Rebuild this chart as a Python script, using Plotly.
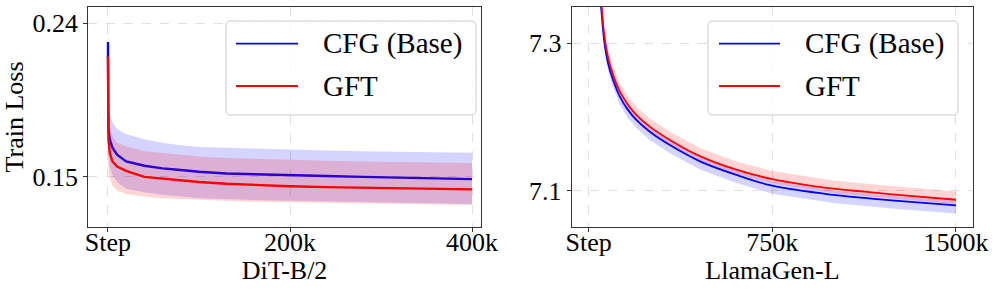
import plotly.graph_objects as go

# ---------------- data ----------------
# Left panel: DiT-B/2 (steps)
dit_steps = [0, 500, 2000, 5000, 10000, 20000, 40000, 60000, 80000, 100000,
             130000, 160000, 200000, 240000, 280000, 320000, 360000, 400000]
dit_cfg = [0.229, 0.178, 0.172, 0.167, 0.163, 0.159, 0.1565, 0.155, 0.154, 0.153,
           0.152, 0.1515, 0.151, 0.1505, 0.150, 0.1495, 0.149, 0.1487]
dit_gft = [0.2204, 0.172, 0.164, 0.159, 0.156, 0.1535, 0.150, 0.149, 0.1478, 0.147,
           0.146, 0.1452, 0.1445, 0.144, 0.1436, 0.1432, 0.143, 0.1427]
# raw-loss envelopes (light bands)
dit_cfg_hi = [0.262, 0.190, 0.186, 0.182, 0.178, 0.175, 0.172, 0.170, 0.1685, 0.1675,
              0.167, 0.1665, 0.166, 0.1655, 0.165, 0.1648, 0.1645, 0.1642]
dit_cfg_lo = [0.175, 0.162, 0.156, 0.151, 0.147, 0.143, 0.141, 0.1395, 0.1385, 0.1375,
              0.137, 0.1365, 0.136, 0.1355, 0.135, 0.1348, 0.1345, 0.1342]
dit_gft_hi = [0.262, 0.185, 0.179, 0.174, 0.170, 0.168, 0.165, 0.164, 0.163, 0.162,
              0.161, 0.1605, 0.160, 0.1595, 0.159, 0.1587, 0.1585, 0.1582]
dit_gft_lo = [0.172, 0.153, 0.149, 0.145, 0.142, 0.140, 0.1385, 0.1375, 0.137, 0.1365,
              0.136, 0.1355, 0.1352, 0.135, 0.1345, 0.134, 0.1338, 0.1335]

# Right panel: LlamaGen-L (steps)
llama_steps = [30000, 40000, 52000, 64000, 80000, 100000, 127000, 160000, 195000, 250000,
               332000, 455000, 600000, 750000, 1000000, 1125000, 1250000, 1500000]
llama_cfg = [7.44, 7.395, 7.345, 7.302, 7.272, 7.250, 7.228, 7.210, 7.196, 7.180,
             7.162, 7.140, 7.122, 7.107, 7.0945, 7.0905, 7.0868, 7.0805]
llama_gft = [7.45, 7.405, 7.355, 7.311, 7.280, 7.257, 7.235, 7.217, 7.203, 7.187,
             7.169, 7.147, 7.129, 7.116, 7.103, 7.099, 7.095, 7.088]
llama_cfg_hi = [7.446, 7.401, 7.351, 7.308, 7.278, 7.256, 7.234, 7.216, 7.202, 7.186,
                7.168, 7.146, 7.128, 7.113, 7.1005, 7.0965, 7.0928, 7.0865]
llama_cfg_lo = [7.432, 7.387, 7.337, 7.293, 7.262, 7.240, 7.217, 7.199, 7.185, 7.169,
                7.151, 7.129, 7.111, 7.096, 7.0835, 7.0795, 7.0758, 7.0695]
llama_gft_hi = [7.458, 7.413, 7.363, 7.320, 7.290, 7.268, 7.246, 7.228, 7.214, 7.198,
                7.180, 7.158, 7.140, 7.127, 7.114, 7.110, 7.106, 7.099]
llama_gft_lo = [7.444, 7.399, 7.349, 7.305, 7.274, 7.251, 7.229, 7.211, 7.197, 7.181,
                7.163, 7.141, 7.123, 7.110, 7.097, 7.093, 7.089, 7.082]

dit_xticks = [0, 200000, 400000]
dit_xtext = ["Step", "200k", "400k"]
dit_yticks = [0.15, 0.24]
dit_ytext = ["0.15", "0.24"]
llama_xticks = [0, 750000, 1500000]
llama_xtext = ["Step", "750k", "1500k"]
llama_yticks = [7.1, 7.3]
llama_ytext = ["7.1", "7.3"]

series_names = ["CFG (Base)", "GFT"]
BLUE = "rgb(0,0,255)"
RED = "rgb(255,0,0)"
BLUE_BAND = "rgba(0,0,255,0.17)"
RED_BAND = "rgba(255,0,0,0.17)"

FONT = "Liberation Serif, Times New Roman, serif"
W, H = 996, 291

fig = go.Figure()


def band(x, lo, hi, color, xa, ya):
    return go.Scatter(x=list(x) + list(x)[::-1], y=list(hi) + list(lo)[::-1],
                      fill="toself", fillcolor=color, mode="lines",
                      line=dict(width=0, color=color), hoverinfo="skip",
                      showlegend=False, xaxis=xa, yaxis=ya)


def mean(x, y, color, name, xa, ya, width, shape):
    return go.Scatter(x=x, y=y, mode="lines",
                      line=dict(color=color, width=width, shape=shape),
                      name=name, showlegend=False, xaxis=xa, yaxis=ya)


# left panel
fig.add_trace(band(dit_steps, dit_cfg_lo, dit_cfg_hi, BLUE_BAND, "x", "y"))
fig.add_trace(mean(dit_steps, dit_cfg, BLUE, series_names[0], "x", "y", 2.4, "linear"))
fig.add_trace(band(dit_steps, dit_gft_lo, dit_gft_hi, RED_BAND, "x", "y"))
fig.add_trace(mean(dit_steps, dit_gft, RED, series_names[1], "x", "y", 2.4, "linear"))
# right panel
fig.add_trace(band(llama_steps, llama_cfg_lo, llama_cfg_hi, BLUE_BAND, "x2", "y2"))
fig.add_trace(mean(llama_steps, llama_cfg, BLUE, series_names[0], "x2", "y2", 1.8, "spline"))
fig.add_trace(band(llama_steps, llama_gft_lo, llama_gft_hi, RED_BAND, "x2", "y2"))
fig.add_trace(mean(llama_steps, llama_gft, RED, series_names[1], "x2", "y2", 1.8, "spline"))


def px(x):
    return x / W


def py(y):
    return 1 - y / H


axis_common = dict(showline=True, linecolor="#333333", linewidth=1, mirror=True,
                   ticks="outside", ticklen=4, tickcolor="#333333", tickwidth=1,
                   showgrid=True, gridcolor="#e0e0e0", gridwidth=0.8, griddash="dash",
                   zeroline=False, automargin=False,
                   tickfont=dict(family=FONT, size=26, color="black"))

ydom = [py(227.3), py(6.7)]

fig.update_layout(
    width=W, height=H, margin=dict(l=0, r=0, t=0, b=0, autoexpand=False),
    paper_bgcolor="white", plot_bgcolor="white",
    font=dict(family=FONT, color="black"),
    xaxis=dict(domain=[px(88.3), px(480.7)], range=[-21600, 409500], anchor="y",
               tickvals=dit_xticks, ticktext=dit_xtext, ticklabelstandoff=-13,
               title=dict(text="DiT-B/2", font=dict(family=FONT, size=26), standoff=3),
               **axis_common),
    yaxis=dict(domain=ydom, range=[0.1205, 0.2496], anchor="x",
               tickvals=dit_yticks, ticktext=dit_ytext,
               title=dict(text="Train Loss", font=dict(family=FONT, size=26), standoff=6),
               **axis_common),
    xaxis2=dict(domain=[px(571.7), px(973.3)], range=[-69000, 1570700], anchor="y2",
                tickvals=llama_xticks, ticktext=llama_xtext, ticklabelstandoff=-13,
                title=dict(text="LlamaGen-L", font=dict(family=FONT, size=26), standoff=3),
                **axis_common),
    yaxis2=dict(domain=ydom, range=[7.0507, 7.3493], anchor="x2",
                tickvals=llama_yticks, ticktext=llama_ytext,
                **axis_common),
)

# manual legends (matplotlib-like rounded boxes)
shapes = []
annotations = []


def rounded_rect(x0, y0, x1, y1, r):
    rx, ry = r / W, r / H
    X0, X1 = px(x0), px(x1)
    Y0, Y1 = py(y1), py(y0)  # bottom, top in paper coords
    return (f"M {X0+rx},{Y0} L {X1-rx},{Y0} Q {X1},{Y0} {X1},{Y0+ry} "
            f"L {X1},{Y1-ry} Q {X1},{Y1} {X1-rx},{Y1} L {X0+rx},{Y1} "
            f"Q {X0},{Y1} {X0},{Y1-ry} L {X0},{Y0+ry} Q {X0},{Y0} {X0+rx},{Y0} Z")


for (bx0, bx1, lx0, lx1, tx) in [(226, 476, 236, 298, 321), (708, 958, 719, 780, 803)]:
    shapes.append(dict(type="path", xref="paper", yref="paper",
                       path=rounded_rect(bx0, 21, bx1, 115, 5),
                       fillcolor="rgba(255,255,255,0.8)",
                       line=dict(color="#cccccc", width=1), layer="above"))
    for yy, col, name in [(43.7, BLUE, series_names[0]), (86, RED, series_names[1])]:
        shapes.append(dict(type="line", xref="paper", yref="paper",
                           x0=px(lx0), x1=px(lx1), y0=py(yy), y1=py(yy),
                           line=dict(color=col, width=1.8), layer="above"))
        annotations.append(dict(xref="paper", yref="paper", x=px(tx), y=py(yy),
                                xanchor="left", yanchor="middle", showarrow=False,
                                text=name, font=dict(family=FONT, size=29, color="black")))

fig.update_layout(shapes=shapes, annotations=annotations)

fig.write_html("out.html", config={"displayModeBar": False},
               post_script="document.body.style.margin='0';document.body.style.padding='0';")
